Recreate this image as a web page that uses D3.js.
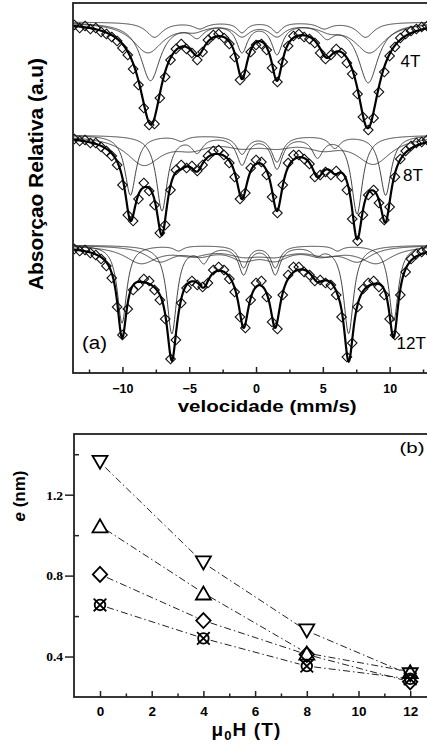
<!DOCTYPE html>
<html><head><meta charset="utf-8">
<script src="https://cdn.jsdelivr.net/npm/d3@7"></script>
<style>body{margin:0;background:#fff;} svg{display:block;}</style>
</head><body>
<svg id="chart" width="427" height="747"></svg>
<script>
// ---------- Panel (a): Mössbauer spectra ----------
const velocity = [-13.6,-13.2,-12.8,-12.4,-12.0,-11.6,-11.2,-10.8,-10.4,-10.0,-9.6,-9.2,-8.8,-8.4,-8.0,-7.6,-7.2,-6.8,-6.4,-6.0,-5.6,-5.2,-4.8,-4.4,-4.0,-3.6,-3.2,-2.8,-2.4,-2.0,-1.6,-1.2,-0.8,-0.4,0.0,0.4,0.8,1.2,1.6,2.0,2.4,2.8,3.2,3.6,4.0,4.4,4.8,5.2,5.6,6.0,6.4,6.8,7.2,7.6,8.0,8.4,8.8,9.2,9.6,10.0,10.4,10.8,11.2,11.6,12.0,12.4,12.8];
const abs4T = [0.03,0.06,0.04,0.07,0.06,0.10,0.12,0.15,0.19,0.26,0.33,0.47,0.63,0.86,1.03,1.02,0.76,0.55,0.38,0.27,0.22,0.27,0.31,0.38,0.30,0.18,0.13,0.12,0.16,0.22,0.35,0.58,0.52,0.30,0.23,0.22,0.28,0.46,0.60,0.40,0.24,0.14,0.12,0.15,0.17,0.21,0.31,0.37,0.33,0.27,0.31,0.41,0.52,0.72,0.95,1.08,0.96,0.70,0.50,0.34,0.25,0.16,0.12,0.09,0.07,0.05,0.04];
const abs8T = [0.04,0.06,0.05,0.08,0.08,0.12,0.16,0.21,0.30,0.50,0.80,0.86,0.64,0.48,0.56,0.70,0.98,0.90,0.55,0.35,0.30,0.33,0.31,0.36,0.30,0.21,0.16,0.15,0.20,0.28,0.42,0.64,0.58,0.33,0.25,0.27,0.40,0.62,0.78,0.50,0.28,0.20,0.20,0.24,0.29,0.42,0.40,0.37,0.40,0.36,0.42,0.55,0.84,1.06,0.80,0.60,0.55,0.68,0.85,0.72,0.42,0.24,0.16,0.11,0.08,0.07,0.05];
const abs12T = [0.04,0.06,0.05,0.08,0.10,0.14,0.21,0.33,0.62,0.90,0.64,0.45,0.40,0.34,0.36,0.45,0.55,0.74,1.14,0.95,0.58,0.43,0.36,0.40,0.42,0.38,0.25,0.22,0.25,0.34,0.47,0.72,0.83,0.55,0.38,0.36,0.52,0.77,0.84,0.50,0.30,0.22,0.22,0.27,0.30,0.36,0.35,0.38,0.40,0.50,0.72,1.12,0.98,0.62,0.44,0.38,0.36,0.42,0.50,0.74,0.90,0.50,0.27,0.14,0.09,0.07,0.05];

// fitted sub-spectra (sextets): line positions (mm/s), depths, widths
const linePos4T = [[-7.9,-4.4,-1.05,1.57,5.3,8.4],[-8.1,-4.6,-1.05,1.57,5.5,8.5],[-7.6,-4.2,-1.05,1.57,5.1,8.2]];
const lineDepth4T = [[0.58,0.12,0.28,0.30,0.12,0.60],[0.30,0.06,0.12,0.12,0.06,0.30],[0.15,0.06,0.10,0.10,0.06,0.15]];
const lineWidth4T = [[1.8,1.2,1.0,1.0,1.2,1.8],[2.8,2.0,1.4,1.4,2.0,2.8],[1.5,1.2,0.9,0.9,1.2,1.5]];
const linePos8T = [[-9.4,-5.6,-1.05,1.57,5.9,9.7],[-7.04,-4.4,-1.05,1.57,4.6,7.56],[-8.4,-4.8,-1.05,1.57,5.0,8.8]];
const lineDepth8T = [[0.60,0.05,0.18,0.26,0.12,0.60],[0.75,0.15,0.28,0.32,0.20,0.78],[0.28,0.10,0.08,0.08,0.10,0.27]];
const lineWidth8T = [[1,1,1,1,1,1],[1,1,1,1,1,1],[3.2,3.2,3.2,3.2,3.2,3.2]];
const linePos12T = [[-10.03,-5.8,-0.93,1.44,6.1,10.3],[-6.3,-3.9,-0.93,1.44,4.55,6.93],[-8.6,-4.8,-0.93,1.44,5.2,9.0],[-7.2,-4.2,-0.93,1.44,4.8,7.6]];
const lineDepth12T = [[0.78,0.05,0.22,0.22,0.05,0.76],[0.88,0.15,0.28,0.28,0.08,0.88],[0.17,0.08,0.08,0.08,0.08,0.17],[0.15,0.08,0.12,0.12,0.08,0.15]];
const lineWidth12T = [[0.85,0.85,0.85,0.85,0.85,0.85],[0.9,0.9,0.9,0.9,0.9,0.9],[3,3,3,3,3,3],[2.5,2.5,2.5,2.5,2.5,2.5]];

const spectrumLabels = ["4T", "8T", "12T"];
const spectrumOffsets = [0, 1.13, 2.23];
const velocityTicks = [-10, -5, 0, 5, 10];
const velocityMinorTicks = [-12.5, -7.5, -2.5, 2.5, 7.5, 12.5];

// ---------- Panel (b): e (nm) vs field ----------
const fieldValues = [0, 4, 8, 12];
const eDownTri = [1.36, 0.863, 0.527, 0.31];
const eUpTri = [1.046, 0.714, 0.417, 0.325];
const eDiamond = [0.806, 0.578, 0.41, 0.275];
const eCrossCircle = [0.655, 0.49, 0.353, 0.29];
const fieldTicks = [0, 2, 4, 6, 8, 10, 12];
const fieldMinorTicks = [1, 3, 5, 7, 9, 11];
const eTicks = [0.4, 0.8, 1.2];
const eMinorTicks = [0.6, 1.0, 1.4];

// ---------- drawing ----------
const SANS = '"Liberation Sans", Arial, Helvetica, sans-serif';
const SERIF = '"Liberation Serif", "Times New Roman", serif';
const svg = d3.select("#chart");

function lorentzSextet(pos, dep, wid, v) {
  let s = 0;
  for (let i = 0; i < pos.length; i++) { const h = wid[i] / 2; s += dep[i] / (1 + ((v - pos[i]) / h) ** 2); }
  return s;
}

const xA = d3.scaleLinear().domain([-13.7, 13.5]).range([73, 73 + 27.2 * 13.36]);
const yA = d3.scaleLinear().domain([-0.19, 3.51]).range([3, 373]);

svg.append("defs").append("clipPath").attr("id", "clipA")
  .append("rect").attr("x", 73).attr("y", 3).attr("width", 363.4).attr("height", 370);

const gA = svg.append("g").attr("clip-path", "url(#clipA)");
const vGrid = d3.range(-13.7, 13.52, 0.04);
const spectra = [
  { data: abs4T, P: linePos4T, D: lineDepth4T, Wd: lineWidth4T },
  { data: abs8T, P: linePos8T, D: lineDepth8T, Wd: lineWidth8T },
  { data: abs12T, P: linePos12T, D: lineDepth12T, Wd: lineWidth12T }
];
const line = d3.line().x(d => xA(d[0])).y(d => yA(d[1])).curve(d3.curveLinear);
const diamondPath = "M0,-4.8L4.8,0L0,4.8L-4.8,0Z";

spectra.forEach((s, si) => {
  const off = spectrumOffsets[si];
  // sub-spectra
  s.P.forEach((p, ci) => {
    const pts = vGrid.map(v => [v, off + lorentzSextet(p, s.D[ci], s.Wd[ci], v)]);
    gA.append("path").attr("d", line(pts)).attr("fill", "none")
      .attr("stroke", "#2e2e2e").attr("stroke-width", 0.9);
  });
  // data points
  gA.selectAll(null).data(velocity.map((v, i) => [v, off + s.data[i]])).join("path")
    .attr("d", diamondPath)
    .attr("transform", d => `translate(${xA(d[0])},${yA(d[1])})`)
    .attr("fill", "none").attr("stroke", "#111").attr("stroke-width", 1.1);
  // total fit
  const fitPts = vGrid.map(v => [v, off + d3.sum(s.P, (p, ci) => lorentzSextet(p, s.D[ci], s.Wd[ci], v))]);
  gA.append("path").attr("d", line(fitPts)).attr("fill", "none")
    .attr("stroke", "#000").attr("stroke-width", 2.2);
});

// frame a
svg.append("rect").attr("x", 73).attr("y", 3).attr("width", 363.4).attr("height", 370)
  .attr("fill", "none").attr("stroke", "#222").attr("stroke-width", 1.8);

// x axis a
const axA = svg.append("g").attr("transform", "translate(0,373)")
  .call(d3.axisBottom(xA).tickValues(velocityTicks).tickSizeInner(-6).tickSizeOuter(0).tickPadding(11.5).tickFormat(d3.format("d")));
axA.select(".domain").remove();
axA.selectAll("line").attr("stroke", "#222").attr("stroke-width", 1.5);
axA.selectAll("text").attr("font-family", SANS).attr("font-size", 12.5).attr("font-weight", "bold").attr("fill", "#000");
const axAm = svg.append("g").attr("transform", "translate(0,373)")
  .call(d3.axisBottom(xA).tickValues(velocityMinorTicks).tickSizeInner(-3.5).tickSizeOuter(0).tickFormat(""));
axAm.select(".domain").remove();
axAm.selectAll("line").attr("stroke", "#222").attr("stroke-width", 1.5);

svg.append("text").attr("x", 177.7).attr("y", 411.5)
  .attr("font-family", SANS).attr("font-weight", "bold").attr("font-size", 16)
  .attr("textLength", 179).attr("lengthAdjust", "spacingAndGlyphs")
  .text("velocidade (mm/s)");
svg.append("text").attr("transform", "translate(43,174) rotate(-90)").attr("text-anchor", "middle")
  .attr("font-family", SANS).attr("font-weight", "bold").attr("font-size", 20)
  .attr("textLength", 232).attr("lengthAdjust", "spacingAndGlyphs")
  .text("Absorçao Relativa (a.u)");

const labelBase = [67, 181, 349];
const labelX = [400.5, 403, 396.5];
spectrumLabels.forEach((t, i) => {
  svg.append("text").attr("x", labelX[i]).attr("y", labelBase[i])
    .attr("font-family", SANS).attr("font-size", 17).attr("fill", "#000").text(t);
});
svg.append("text").attr("x", 82).attr("y", 349).attr("font-family", SANS).attr("font-size", 18)
  .attr("textLength", 25).attr("lengthAdjust", "spacingAndGlyphs").text("(a)");

// ---------- panel b ----------
const xB = d3.scaleLinear().domain([-1, 13]).range([74.15, 74.15 + 14 * 25.85]);
const yB = d3.scaleLinear().domain([0.2, 1.5]).range([697, 434]);

svg.append("rect").attr("x", 74).attr("y", 434).attr("width", 362).attr("height", 263)
  .attr("fill", "none").attr("stroke", "#222").attr("stroke-width", 1.8);

const axB = svg.append("g").attr("transform", "translate(0,697)")
  .call(d3.axisBottom(xB).tickValues(fieldTicks).tickSizeInner(-6).tickSizeOuter(0).tickPadding(9).tickFormat(d3.format("d")));
axB.select(".domain").remove();
axB.selectAll("line").attr("stroke", "#222").attr("stroke-width", 1.5);
axB.selectAll("text").attr("font-family", SANS).attr("font-size", 13.5).attr("font-weight", "bold").attr("fill", "#000");
const axBm = svg.append("g").attr("transform", "translate(0,697)")
  .call(d3.axisBottom(xB).tickValues(fieldMinorTicks).tickSizeInner(-3.5).tickSizeOuter(0).tickFormat(""));
axBm.select(".domain").remove();
axBm.selectAll("line").attr("stroke", "#222").attr("stroke-width", 1.5);

const ayB = svg.append("g").attr("transform", "translate(74,0)")
  .call(d3.axisLeft(yB).tickValues(eTicks).tickSizeInner(9).tickSizeOuter(0).tickPadding(2).tickFormat(d3.format(".1f")));
ayB.select(".domain").remove();
ayB.selectAll("line").attr("stroke", "#222").attr("stroke-width", 1.5);
ayB.selectAll("text").attr("font-family", SERIF).attr("font-size", 13.5).attr("font-weight", "bold").attr("fill", "#000");
const ayBm = svg.append("g").attr("transform", "translate(74,0)")
  .call(d3.axisLeft(yB).tickValues(eMinorTicks).tickSizeInner(-5).tickSizeOuter(0).tickFormat(""));
ayBm.select(".domain").remove();
ayBm.selectAll("line").attr("stroke", "#222").attr("stroke-width", 1.5);

const markerShapes = {
  down: "M-7.5,-6.5L7.5,-6.5L0,6.5Z",
  up: "M-7.5,6.5L7.5,6.5L0,-6.5Z",
  diamond: "M0,-7.5L7.2,0L0,7.5L-7.2,0Z",
  cross: "M-6.3,-6.3L6.3,6.3M-6.3,6.3L6.3,-6.3"
};
const seriesB = [
  { vals: eDownTri, shape: "down" },
  { vals: eUpTri, shape: "up" },
  { vals: eDiamond, shape: "diamond" },
  { vals: eCrossCircle, shape: "cross" }
];
const gB = svg.append("g");
seriesB.forEach(s => {
  const pts = fieldValues.map((f, i) => [xB(f), yB(s.vals[i])]);
  for (let i = 0; i < pts.length - 1; i++) {
    const [x1, y1] = pts[i], [x2, y2] = pts[i + 1];
    const L = Math.hypot(x2 - x1, y2 - y1), r = 7.5;
    const ux = (x2 - x1) / L, uy = (y2 - y1) / L;
    gB.append("line").attr("x1", x1 + ux * r).attr("y1", y1 + uy * r)
      .attr("x2", x2 - ux * r).attr("y2", y2 - uy * r)
      .attr("stroke", "#222").attr("stroke-width", 1).attr("stroke-dasharray", "7,3,1.5,3");
  }
});
seriesB.forEach(s => {
  const pts = fieldValues.map((f, i) => [xB(f), yB(s.vals[i])]);
  const g = gB.append("g");
  g.selectAll(null).data(pts).join("path")
    .attr("d", markerShapes[s.shape])
    .attr("transform", d => `translate(${d[0]},${d[1]})`)
    .attr("fill", "none").attr("stroke", "#000").attr("stroke-width", 1.8);
  if (s.shape === "cross") {
    g.selectAll(null).data(pts).join("circle")
      .attr("cx", d => d[0]).attr("cy", d => d[1]).attr("r", 5.3)
      .attr("fill", "none").attr("stroke", "#000").attr("stroke-width", 1.8);
  }
});

svg.append("text").attr("x", 399.5).attr("y", 453).attr("font-family", SANS).attr("font-size", 15)
  .attr("textLength", 25).attr("lengthAdjust", "spacingAndGlyphs").text("(b)");

const eLab = svg.append("text").attr("transform", "translate(25,496) rotate(-90)").attr("text-anchor", "middle")
  .attr("font-family", SANS).attr("font-weight", "bold").attr("font-size", 17);
eLab.append("tspan").attr("font-style", "italic").text("e");
eLab.append("tspan").text(" (nm)");

const hLab = svg.append("text").attr("x", 211.5).attr("y", 736)
  .attr("font-family", SANS).attr("font-weight", "bold").attr("font-size", 19).attr("letter-spacing", 1.1);
hLab.append("tspan").text("\u03BC");
hLab.append("tspan").attr("font-size", 13).attr("dy", 4).text("0");
hLab.append("tspan").attr("dy", -4).text("H (T)");
</script></body></html>
